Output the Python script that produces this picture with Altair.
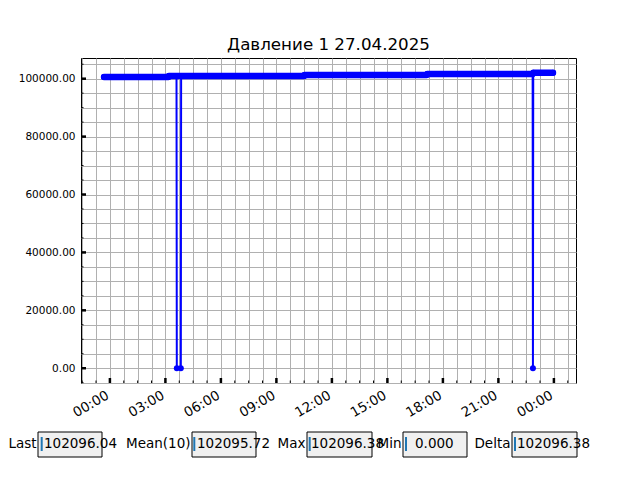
import altair as alt
import pandas as pd

# ---- data ----
times = [
    "2025-04-26T23:41", "2025-04-27T03:10", "2025-04-27T03:11", "2025-04-27T03:36",
    "2025-04-27T03:37", "2025-04-27T03:50", "2025-04-27T03:51", "2025-04-27T10:30",
    "2025-04-27T10:31", "2025-04-27T17:08", "2025-04-27T17:09", "2025-04-27T22:51",
    "2025-04-27T22:52", "2025-04-27T22:53", "2025-04-27T23:57",
]
values = [
    100600, 100600, 100950, 100950,
    0, 0, 100950, 100950,
    101300, 101300, 101600, 101600,
    0, 102096.04, 102096.04,
]
title_text = "Давление 1 27.04.2025"
widget_labels = ["Last", "Mean(10)", "Max", "Min", "Delta"]
widget_values = ["102096.04", "102095.72", "102096.38", "0.000", "102096.38"]

# ---- layout constants (pixels, relative to the plot origin) ----
W, H = 495, 325
x_domain = ["2025-04-26T22:26:15", "2025-04-28T01:11:40"]
y_domain = [-5100, 107150]
box_left = [-43, 111, 226, 322, 431]
box_right = [21, 175, 291, 386, 496]
cursor_x = [-39.3, 113.3, 228.7, 325, 434]
text_x = [-37, 116, 230, 334, 436]
BOX_TOP, BOX_BOT, TEXT_Y = 374, 399, 390
FONT = "DejaVu Sans"
BLUE = "#0000ff"

df = pd.DataFrame({"t": times, "v": values, "idx": range(len(times))})

# grid / tick positions
minor_t = pd.date_range("2025-04-26 22:30", "2025-04-28 01:00", freq="45min")
major_t = pd.date_range("2025-04-27 00:00", "2025-04-28 00:00", freq="3h")
minor_y = list(range(-5000, 105001, 5000))
major_y = list(range(0, 100001, 20000))

def dt(ts):
    return alt.DateTime(year=ts.year, month=ts.month, date=ts.day,
                        hours=ts.hour, minutes=ts.minute)

xscale = alt.Scale(domain=x_domain)
yscale = alt.Scale(domain=y_domain, nice=False, zero=False)

x_axis = alt.Axis(
    values=[dt(t) for t in minor_t], tickCount=200, grid=True, ticks=False, domain=False,
    labelExpr="(hours(datum.value) % 3 == 0 && minutes(datum.value) == 0) ? timeFormat(datum.value, '%H:%M') : ''",
    labelOverlap=False, labelAngle=-30, labelAlign="right", labelBaseline="top",
    labelPadding=5, labelOffset=-6, title=None, tickSize=0, labelFontSize=13.5,
)
y_axis = alt.Axis(
    values=minor_y, tickCount=200, grid=True, ticks=False, domain=False, tickSize=0,
    labelExpr="(datum.value % 20000 == 0 && datum.value >= 0) ? format(datum.value, '.2f') : ''",
    labelOverlap=False, labelPadding=6, title=None, labelFontSize=10.5,
)

base = alt.Chart(df)
thin = base.mark_line(color=BLUE, strokeWidth=2, strokeJoin="round").encode(
    x=alt.X("t:T", scale=xscale, axis=x_axis),
    y=alt.Y("v:Q", scale=yscale, axis=y_axis),
    order=alt.Order("idx:Q"),
)
band = base.transform_filter("datum.v > 0").mark_line(
    color=BLUE, strokeWidth=6.5, strokeCap="round", strokeJoin="round"
).encode(x="t:T", y="v:Q", order=alt.Order("idx:Q"))
pts = base.mark_circle(color=BLUE, size=36, opacity=1).encode(x="t:T", y="v:Q")

# inward ticks
xmin_df = pd.DataFrame({"t": [t.strftime("%Y-%m-%dT%H:%M") for t in minor_t]})
xmaj_df = pd.DataFrame({"t": [t.strftime("%Y-%m-%dT%H:%M") for t in major_t]})
ymin_df = pd.DataFrame({"v": minor_y})
ymaj_df = pd.DataFrame({"v": major_y})
xt_min = alt.Chart(xmin_df).mark_rule(color="black", strokeWidth=1).encode(
    x="t:T", y=alt.value(H), y2=alt.value(H - 2.5))
xt_maj = alt.Chart(xmaj_df).mark_rule(color="black", strokeWidth=2.5).encode(
    x="t:T", y=alt.value(H), y2=alt.value(H - 5))
yt_min = alt.Chart(ymin_df).mark_rule(color="black", strokeWidth=1).encode(
    y="v:Q", x=alt.value(0), x2=alt.value(2.5))
yt_maj = alt.Chart(ymaj_df).mark_rule(color="black", strokeWidth=2.5).encode(
    y="v:Q", x=alt.value(0), x2=alt.value(5))

# text-box widgets under the plot
one = alt.Data(values=[{"a": 1}])
widgets = []
for i, (lab, val) in enumerate(zip(widget_labels, widget_values)):
    widgets.append(alt.Chart(one).mark_rect(fill="#f0f0f0", stroke="black", strokeWidth=1).encode(
        x=alt.value(box_left[i]), x2=alt.value(box_right[i]),
        y=alt.value(BOX_TOP), y2=alt.value(BOX_BOT)))
    widgets.append(alt.Chart(one).mark_rule(color="#1f77b4", strokeWidth=2).encode(
        x=alt.value(cursor_x[i]), y=alt.value(BOX_TOP + 5), y2=alt.value(BOX_BOT - 6)))
    widgets.append(alt.Chart(one).mark_text(
        font=FONT, fontSize=13.5, color="black", align="left", baseline="alphabetic"
    ).encode(x=alt.value(text_x[i]), y=alt.value(TEXT_Y), text=alt.value(val)))
for i, lab in enumerate(widget_labels):
    widgets.append(alt.Chart(one).mark_text(
        font=FONT, fontSize=13.5, color="black", align="right", baseline="alphabetic"
    ).encode(x=alt.value(box_left[i] - 1.5), y=alt.value(TEXT_Y), text=alt.value(lab)))

chart = alt.layer(
    thin, band, pts, xt_min, xt_maj, yt_min, yt_maj, *widgets
).properties(
    width=W, height=H,
    title=alt.TitleParams(title_text, font=FONT, fontSize=16.7, fontWeight="normal",
                          color="black", anchor="middle", baseline="alphabetic", offset=-9),
    autosize=alt.AutoSizeParams(type="none"),
    padding={"left": 73, "top": 50, "right": 40, "bottom": 90},
).configure_view(stroke="black", strokeWidth=1).configure_axis(
    labelFont=FONT, labelColor="black",
    gridColor="#b0b0b0", gridWidth=1, gridOpacity=1,
)

chart.save("out.html", embed_options={"renderer": "svg", "actions": False})
